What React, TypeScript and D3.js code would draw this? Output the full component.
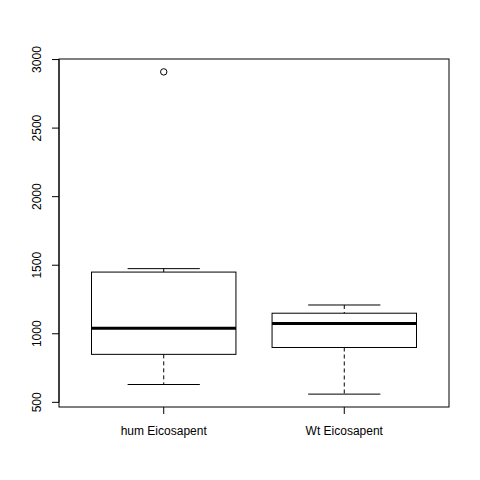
import React from 'react'
import * as d3 from 'd3'

const groups = ['hum Eicosapent', 'Wt Eicosapent']
const whiskerLow = [630, 560]
const q1 = [850, 900]
const median = [1040, 1075]
const q3 = [1450, 1150]
const whiskerHigh = [1475, 1210]
const outliers = [[2910], []]
const yTicks = [500, 1000, 1500, 2000, 2500, 3000]

export default function App() {
  const left = 59, right = 449, top = 59, bottom = 407
  const x = d3.scaleLinear().domain([0.42, 2.58]).range([left, right])
  const y = d3.scaleLinear().domain([466, 3004]).range([bottom, top])
  const font = 'Liberation Sans, Arial, sans-serif'

  return (
    <svg width={480} height={480} style={{ position: 'absolute', left: 0, top: 0, background: 'white' }}>
      <rect x={left} y={top} width={right - left} height={bottom - top} fill="none" stroke="black" />
      {groups.map((g, i) => {
        const c = x(i + 1)
        const hw = x(1.4) - x(1)
        const cw = x(1.2) - x(1)
        return (
          <g key={g}>
            <line x1={c} x2={c} y1={y(whiskerHigh[i])} y2={y(q3[i])} stroke="black" strokeDasharray="4,3" />
            <line x1={c} x2={c} y1={y(q1[i])} y2={y(whiskerLow[i])} stroke="black" strokeDasharray="4,3" />
            <line x1={c - cw} x2={c + cw} y1={y(whiskerHigh[i])} y2={y(whiskerHigh[i])} stroke="black" />
            <line x1={c - cw} x2={c + cw} y1={y(whiskerLow[i])} y2={y(whiskerLow[i])} stroke="black" />
            <rect x={c - hw} y={y(q3[i])} width={2 * hw} height={y(q1[i]) - y(q3[i])} fill="none" stroke="black" />
            <line x1={c - hw} x2={c + hw} y1={y(median[i])} y2={y(median[i])} stroke="black" strokeWidth={3} />
            {outliers[i].map((o, j) => (
              <circle key={j} cx={c} cy={y(o)} r={3.2} fill="none" stroke="black" />
            ))}
            <line x1={c} x2={c} y1={bottom} y2={bottom + 7} stroke="black" />
            <text x={c} y={bottom + 28} textAnchor="middle" fontFamily={font} fontSize={12}>{g}</text>
          </g>
        )
      })}
      <line x1={left} x2={left} y1={y(500)} y2={y(3000)} stroke="black" />
      {yTicks.map(t => (
        <g key={t}>
          <line x1={left - 7} x2={left} y1={y(t)} y2={y(t)} stroke="black" />
          <text transform={`translate(${left - 18},${y(t)}) rotate(-90)`} textAnchor="middle" fontFamily={font} fontSize={12}>{t}</text>
        </g>
      ))}
    </svg>
  )
}
